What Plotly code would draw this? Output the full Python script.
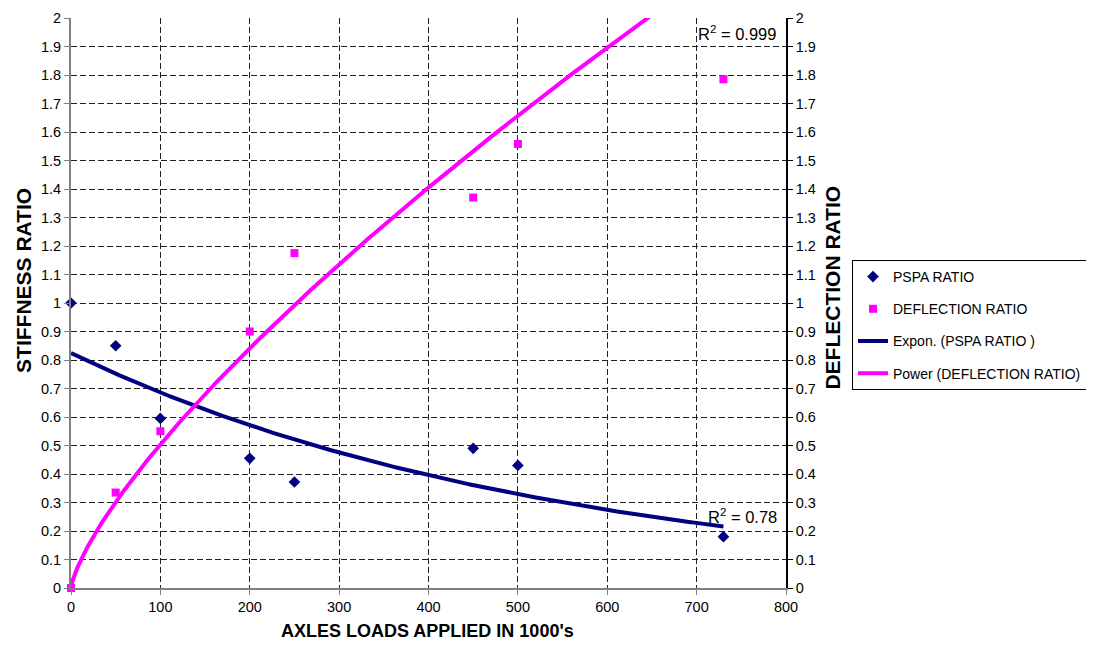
import numpy as np
import plotly.graph_objects as go

# ---- data ----
loads = [0, 50, 100, 200, 250, 450, 500, 730]
pspa_ratio = [1.0, 0.85, 0.595, 0.455, 0.372, 0.49, 0.43, 0.18]
deflection_ratio = [0.0, 0.335, 0.55, 0.90, 1.175, 1.37, 1.558, 1.785]

x_ticks = [0, 100, 200, 300, 400, 500, 600, 700, 800]
y_ticks = [round(i * 0.1, 1) for i in range(21)]
y_ticktext = ["0", "0.1", "0.2", "0.3", "0.4", "0.5", "0.6", "0.7", "0.8", "0.9", "1",
              "1.1", "1.2", "1.3", "1.4", "1.5", "1.6", "1.7", "1.8", "1.9", "2"]

# power trendline coefficients (as drawn: y = a * x^b)
power_a = 0.01668
power_b = 0.74
r2_power = "R<sup>2</sup> = 0.999"
r2_expon = "R<sup>2</sup> = 0.78"

# exponential trendline fitted to PSPA data (least squares on ln y)
b_exp, ln_a_exp = np.polyfit(np.array(loads, float), np.log(pspa_ratio), 1)
xt = np.linspace(0, 730, 400)
expon_y = np.exp(ln_a_exp) * np.exp(b_exp * xt)
xp = np.concatenate([[0.0], np.geomspace(0.01, 20, 120), np.linspace(20, 730, 400)])
power_y = power_a * np.power(xp, power_b)

FONT = "Liberation Sans, Arial, sans-serif"
NAVY = "#000080"
MAGENTA = "#FF00FF"

fig = go.Figure()
fig.add_trace(go.Scatter(x=loads, y=pspa_ratio, mode="markers", name="PSPA RATIO",
                         marker=dict(symbol="diamond", size=9, color=NAVY),
                         cliponaxis=False, legendgroup="a"))
fig.add_trace(go.Scatter(x=loads, y=deflection_ratio, mode="markers", name="DEFLECTION RATIO",
                         marker=dict(symbol="square", size=8, color=MAGENTA),
                         cliponaxis=False, yaxis="y2", legendgroup="b"))
fig.add_trace(go.Scatter(x=xt, y=expon_y, mode="lines", name="Expon. (PSPA RATIO )",
                         line=dict(color=NAVY, width=4), legendgroup="c"))
fig.add_trace(go.Scatter(x=xp, y=power_y, mode="lines", name="Power (DEFLECTION RATIO)",
                         line=dict(color=MAGENTA, width=4), yaxis="y2", legendgroup="d"))

fig.add_annotation(x=745, y=1.946, text=r2_power, showarrow=False,
                   font=dict(family=FONT, size=16.5, color="black"), xanchor="center", yanchor="middle")
fig.add_annotation(x=751, y=0.252, text=r2_expon, showarrow=False,
                   font=dict(family=FONT, size=16.5, color="black"), xanchor="center", yanchor="middle")

# axis titles as annotations (positioned like the reference)
fig.add_annotation(xref="paper", yref="paper", x=0.498, y=-0.0754,
                   text="<b>AXLES LOADS APPLIED IN 1000's</b>", showarrow=False,
                   font=dict(family=FONT, size=18, color="black"), xanchor="center", yanchor="middle")
fig.add_annotation(xref="paper", yref="paper", x=-0.0675, y=0.54,
                   text="<b>STIFFNESS RATIO</b>", showarrow=False, textangle=-90,
                   font=dict(family=FONT, size=21, color="black"), xanchor="center", yanchor="middle")
fig.add_annotation(xref="paper", yref="paper", x=1.0657, y=0.527,
                   text="<b>DEFLECTION RATIO</b>", showarrow=False, textangle=-90,
                   font=dict(family=FONT, size=21, color="black"), xanchor="center", yanchor="middle")

grid = dict(showgrid=True, gridcolor="#222222", gridwidth=1, griddash="6px,3px")

# the page has an 8px body margin, so the figure is sized/offset to compensate
fig.update_layout(
    width=1078, height=634,
    margin=dict(l=63, r=300, t=10, b=54, autoexpand=False),
    paper_bgcolor="white", plot_bgcolor="white",
    font=dict(family=FONT, size=14.5, color="black"),
    showlegend=True,
    legend=dict(x=1.0923, y=0.5754, xanchor="left", yanchor="top",
                bordercolor="black", borderwidth=1, bgcolor="white",
                font=dict(family=FONT, size=14, color="black"),
                traceorder="grouped", tracegroupgap=11),
    xaxis=dict(range=[0, 800], tickvals=x_ticks, ticks="outside", ticklen=5,
               tickcolor="#808080", showline=True, linecolor="#808080", linewidth=2,
               zeroline=False, tickfont=dict(size=14.5), **grid),
    yaxis=dict(range=[0, 2], tickvals=y_ticks, ticktext=y_ticktext, ticks="outside", ticklen=5,
               tickcolor="#808080", showline=True, linecolor="#808080", linewidth=2,
               zeroline=False, tickfont=dict(size=14.5), **grid),
    yaxis2=dict(range=[0, 2], overlaying="y", side="right", tickvals=y_ticks, ticktext=y_ticktext,
                ticks="outside", ticklen=5, tickcolor="black", showline=True, linecolor="black",
                linewidth=1.5, showgrid=False, zeroline=False, tickfont=dict(size=14.5)),
)

fig.write_html("out.html")
